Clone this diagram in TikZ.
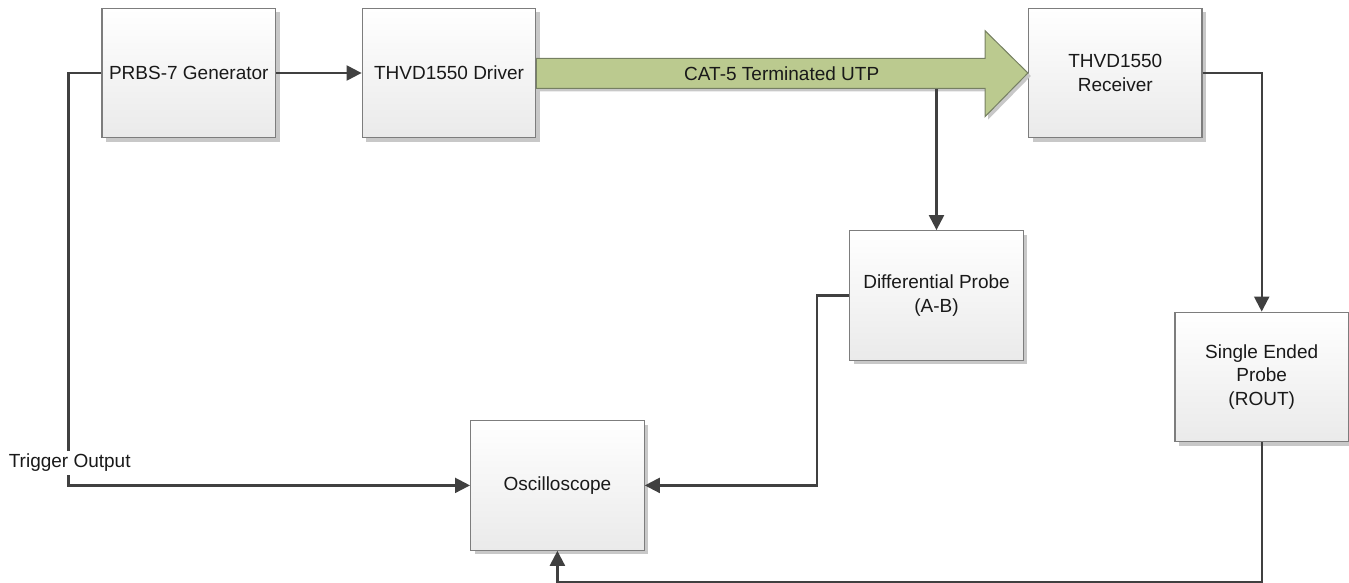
\documentclass[tikz,border=0pt]{standalone}
\usepackage{fontspec}
\setmainfont{Liberation Sans}
\usetikzlibrary{arrows.meta,shadows,calc}
\definecolor{boxline}{RGB}{125,125,125}
\definecolor{boxbottom}{RGB}{234,234,234}
\definecolor{conncol}{RGB}{64,64,64}
\definecolor{cablefill}{RGB}{187,202,143}
\definecolor{cableline}{RGB}{118,128,98}
\definecolor{shadowcol}{RGB}{200,200,200}
\tikzset{
  blockbox/.style={draw=boxline, line width=1.3pt, top color=white, bottom color=boxbottom,
    minimum width=173.5pt, minimum height=129.5pt, inner sep=0pt, align=center,
    font=\fontsize{19}{23.3}\selectfont, text=black!90,
    drop shadow={shadow xshift=4pt, shadow yshift=-4pt, fill=shadowcol, opacity=1}},
  conn/.style={draw=conncol, line width=2.2pt, -{Triangle[length=15pt,width=15pt]}},
  plainconn/.style={draw=conncol, line width=2.2pt},
  cable/.style={fill=cablefill, draw=cableline, line width=1pt,
    drop shadow={shadow xshift=3pt, shadow yshift=-3pt, fill=shadowcol, opacity=1}},
  lbl/.style={font=\fontsize{19}{23}\selectfont, text=black!90, inner sep=0pt},
}
\begin{document}
\begin{tikzpicture}[x=1pt,y=-1pt]
\useasboundingbox (0,0) rectangle (1349,583);
% blocks
\node[blockbox] (prbs) at (188.8,73) {PRBS-7 Generator};
\node[blockbox] (drv) at (449,73) {THVD1550 Driver};
\node[blockbox] (rcv) at (1115.3,73) {THVD1550\\Receiver};
\node[blockbox] (diff) at (936.5,295.5) {Differential Probe\\(A-B)};
\node[blockbox] (osc) at (557.4,485.4) {Oscilloscope};
\node[blockbox] (single) at (1261.7,377) {Single Ended\\Probe\\(ROUT)};
% cable arrow
\path[cable] (drv.east |- 0,58.5) -- (985,58.5) -- (985,30.7) -- (rcv.west)
  -- (985,116.7) -- (985,88.5) -- (drv.east |- 0,88.5) -- cycle;
\node[lbl] (cablelbl) at (781.7,73.5) {CAT-5 Terminated UTP};
\coordinate (tap) at (936.5,89);
% connectors
\draw[conn] (prbs.east) -- (drv.west);
\draw[conn] (tap) -- (diff.north);
\draw[conn] (rcv.east) -| (single.north);
\draw[conn] (prbs.west) -- ++(-33,0) |- (osc.west);
\draw[conn] (diff.west) -- ++(-32,0) |- (osc.east);
\draw[conn] (single.south) -- ++(0,140) -| (osc.south);
\node[lbl, fill=white, inner sep=3pt] (trig) at (69.7,463) {Trigger Output};
\end{tikzpicture}
\end{document}
